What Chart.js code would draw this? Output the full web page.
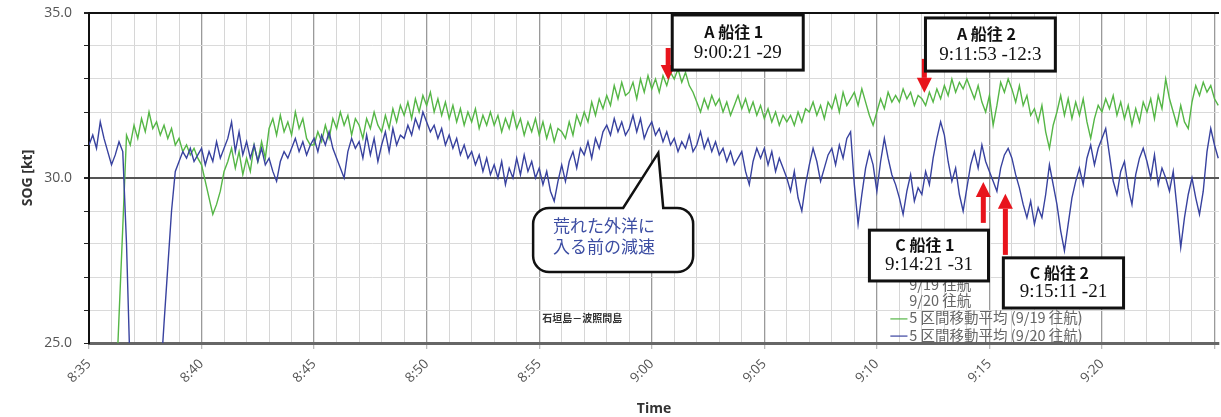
<!DOCTYPE html>
<html><head><meta charset="utf-8">
<script src="https://cdn.jsdelivr.net/npm/chart.js@4.4.1/dist/chart.umd.min.js"></script>
<style>html,body{margin:0;padding:0;background:#fff;}canvas{display:block}</style>
</head><body>
<canvas id="c" width="1221" height="417"></canvas>
<script>
// ---- data ----
const startHour = 8, startMinute = 35;     // first sample 8:35:00
const sampleStepSec = 10;                   // one value every 10 s
const xMaxMinutes = 50.2;                   // axis end (minutes after 8:35)
const xLabelledMax = 45;                    // last labelled tick (9:20)
const yMin = 25, yMax = 35;
const yLabelledTicks = [25, 30, 35];
const legendLabels = ['9/19 往航', '9/20 往航', '5 区間移動平均 (9/19 往航)', '5 区間移動平均 (9/20 往航)'];
const routeLabel = '石垣島－波照間島';
const calloutText = ['荒れた外洋に', '入る前の減速'];

// SOG [kt], 9/19 outbound (green)
const sog0919 = [
 null,null,null,null,null,null,
 null,23.0,25.8,28.5,31.3,31.0,
 31.6,31.2,31.8,31.4,32.0,31.5,
 31.7,31.3,31.6,31.2,31.5,31.0,
 31.2,30.8,31.0,30.7,30.9,30.6,
 30.4,29.9,29.4,28.9,29.2,29.6,
 30.2,30.5,30.9,30.3,30.8,30.1,
 30.6,30.2,31.0,30.5,31.1,30.6,
 31.5,31.8,31.3,31.9,31.4,31.7,
 31.3,32.0,31.5,31.8,31.2,31.0,
 31.0,31.4,31.1,31.6,31.2,31.8,
 31.5,32.0,31.6,31.9,31.3,31.8,
 31.6,31.2,31.8,31.5,32.0,31.6,
 31.4,31.9,31.5,32.1,31.7,32.2,
 31.9,32.3,31.8,32.4,32.0,32.5,
 32.2,32.6,32.0,32.4,31.9,32.3,
 31.8,32.2,31.7,32.1,31.6,32.0,
 31.7,32.1,31.5,31.9,31.6,32.0,
 31.6,31.9,31.4,31.8,31.5,32.0,
 31.5,31.8,31.3,31.7,31.4,31.8,
 31.3,31.7,31.2,31.6,31.1,31.5,
 31.4,31.2,31.7,31.3,31.9,31.6,
 32.0,31.7,32.3,31.9,32.4,32.1,
 32.5,32.2,32.8,32.4,32.9,32.5,
 32.6,32.9,32.4,33.0,32.6,33.1,
 32.7,33.0,32.6,33.1,32.8,33.2,
 33.0,33.3,32.9,33.2,32.8,32.6,
 32.3,32.0,32.4,32.1,32.5,32.2,
 32.4,32.0,32.3,31.9,32.2,32.5,
 32.1,32.4,32.0,32.3,31.9,32.2,
 31.8,32.1,31.7,32.0,31.6,31.9,
 31.7,31.9,31.6,32.0,31.7,32.1,
 32.0,32.3,31.9,32.2,31.8,32.3,
 32.1,32.5,32.0,32.6,32.2,32.4,
 32.6,32.2,32.7,32.3,31.9,31.6,
 32.0,32.4,32.1,32.6,32.3,32.5,
 32.3,32.7,32.4,32.6,32.2,32.5,
 32.4,32.2,32.6,32.3,32.7,32.4,
 32.8,32.5,33.0,32.6,32.9,32.7,
 33.0,32.7,32.4,32.8,32.3,32.0,
 32.5,31.6,32.2,32.9,32.6,33.0,
 32.7,32.3,32.8,32.2,32.5,31.9,
 32.1,31.7,32.2,31.4,30.9,31.6,
 32.0,32.5,31.9,32.4,31.8,32.3,
 31.9,32.4,31.7,31.2,31.8,32.2,
 32.0,32.4,32.1,32.5,31.9,32.3,
 31.8,32.2,31.6,32.1,31.7,32.3,
 32.0,32.4,31.8,32.5,32.1,33.0,
 32.4,32.0,31.6,32.2,31.7,31.5,
 32.3,32.8,32.5,32.9,32.6,32.8,
 32.4,32.2
];

// SOG [kt], 9/20 outbound (blue)
const sog0920 = [
 31.0,31.3,30.9,31.7,31.2,30.8,
 30.4,30.7,31.1,30.8,28.0,24.0,
 null,null,null,null,null,null,
 null,23.8,25.6,27.3,29.0,30.2,
 30.5,30.8,30.6,30.9,30.5,30.7,
 30.9,30.4,30.8,30.5,31.1,30.6,
 30.9,31.2,31.7,30.8,31.4,30.7,
 31.1,30.6,31.0,30.5,30.9,30.4,
 30.6,30.2,29.9,30.5,30.8,30.6,
 30.9,31.2,30.8,31.1,30.7,31.0,
 31.2,30.8,31.3,31.0,31.4,30.9,
 30.6,30.3,30.0,30.8,31.2,30.9,
 31.1,30.6,31.3,30.7,31.2,30.5,
 31.0,31.4,30.8,31.5,31.0,31.3,
 31.2,31.6,31.3,31.8,31.5,32.0,
 31.7,31.4,31.6,31.2,31.5,31.0,
 31.3,30.9,31.2,30.7,31.0,30.6,
 30.8,30.4,30.7,30.2,30.6,30.1,
 30.4,30.0,30.5,29.8,30.3,30.0,
 30.6,30.1,30.7,30.2,30.5,30.0,
 30.3,29.8,30.2,29.6,29.3,29.9,
 30.4,29.9,30.5,30.8,30.3,30.9,
 30.7,31.1,30.6,31.2,30.9,31.4,
 31.6,31.3,31.8,31.4,31.7,31.3,
 31.5,31.9,31.4,31.8,31.2,31.5,
 31.7,31.3,31.5,31.1,31.4,31.0,
 31.2,30.8,31.1,30.9,31.3,30.8,
 31.0,31.4,30.9,31.2,30.8,31.1,
 30.7,30.9,30.5,30.8,30.4,30.6,
 30.8,30.2,29.8,30.5,30.9,30.6,
 30.9,30.4,30.8,30.2,30.6,30.3,
 30.0,29.6,30.2,29.4,29.0,29.8,
 30.4,30.9,30.5,29.9,30.3,30.7,
 30.9,30.4,31.0,30.6,31.2,31.4,
 29.8,28.6,29.5,30.3,30.8,30.4,
 29.6,30.5,31.2,30.6,30.1,29.8,
 29.4,28.9,29.6,30.1,29.3,29.7,
 29.5,30.2,29.8,30.6,31.2,31.7,
 31.3,30.5,29.9,30.3,29.5,29.0,
 29.7,30.4,30.8,30.3,31.0,30.5,
 30.2,29.9,29.6,30.3,30.7,30.9,
 30.6,30.1,29.7,29.2,28.8,29.3,
 28.6,29.1,28.8,29.5,30.4,29.8,
 29.2,28.4,27.8,28.6,29.4,29.9,
 30.3,29.8,30.6,31.0,30.4,30.9,
 31.2,31.5,30.7,29.9,29.5,30.2,
 30.5,29.7,29.2,30.1,30.6,30.9,
 30.5,30.0,30.7,29.8,30.3,30.0,
 29.6,30.2,29.1,27.9,28.8,29.5,
 30.0,29.4,28.9,29.6,30.8,31.5,
 31.0,30.6
];

// ---- annotations (in data units: minutes after 8:35, kt) ----
const boxes = [
  {title: 'A 船往 1', sub: '9:00:21 -29',  x0: 25.91, x1: 31.73, y0: 34.94, y1: 33.27},
  {title: 'A 船往 2', sub: '9:11:53 -12:3', x0: 37.16, x1: 42.93, y0: 34.85, y1: 33.24},
  {title: 'C 船往 1', sub: '9:14:21 -31',  x0: 34.67, x1: 39.96, y0: 28.42, y1: 26.88},
  {title: 'C 船往 2', sub: '9:15:11 -21',  x0: 40.62, x1: 45.96, y0: 27.58, y1: 26.06}
];
const arrows = [
  {x: 25.73, tail: 33.94, tip: 32.97},
  {x: 37.11, tail: 33.61, tip: 32.58},
  {x: 39.73, tail: 28.64, tip: 29.88},
  {x: 40.71, tail: 27.67, tip: 29.52}
];
const callout = {x0: 19.73, x1: 26.84, y0: 29.09, y1: 27.15, tipX: 25.29, tipY: 30.76, baseL: 23.73, baseR: 25.51};
const routePos = {x: 20.13, y: 25.76};
const legendPos = {x: 36.44, lineX0: 35.6, lineX1: 36.36, rows: [26.76, 26.30, 25.76, 25.24]};

// ---- chart ----
const GREEN = '#55b646', BLUE = '#38429f';
const toXY = arr => arr.map((v, i) => ({x: i * sampleStepSec / 60, y: v}));
const isMajor = v => Math.abs(v % 5) < 1e-9;
function clockLabel(m) {
  const t = startHour * 60 + startMinute + m;
  return Math.floor(t / 60) + ':' + String(t % 60).padStart(2, '0');
}

const annotPlugin = {
  id: 'annot',
  afterDatasetsDraw(chart) {
    const {ctx, scales: {x, y}} = chart;
    const X = v => x.getPixelForValue(v), Y = v => y.getPixelForValue(v);
    ctx.save();
    // legend texts
    ctx.font = '14.5px "Noto Sans CJK JP"';
    ctx.fillStyle = '#666';
    ctx.textAlign = 'left'; ctx.textBaseline = 'middle';
    legendLabels.forEach((t, i) => ctx.fillText(t, X(legendPos.x), Y(legendPos.rows[i])));
    [GREEN, BLUE].forEach((c, k) => {
      const yy = Y(legendPos.rows[2 + k]) + 1;
      ctx.strokeStyle = c; ctx.lineWidth = 1.2;
      ctx.beginPath(); ctx.moveTo(X(legendPos.lineX0), yy); ctx.lineTo(X(legendPos.lineX1), yy); ctx.stroke();
    });
    // route label
    ctx.font = 'bold 10px "Noto Sans CJK JP"';
    ctx.fillStyle = '#333';
    ctx.fillText(routeLabel, X(routePos.x), Y(routePos.y));
    // callout bubble
    const cx0 = X(callout.x0), cx1 = X(callout.x1), cy0 = Y(callout.y0), cy1 = Y(callout.y1), r = 16;
    ctx.beginPath();
    ctx.moveTo(cx0 + r, cy0);
    ctx.lineTo(X(callout.baseL), cy0);
    ctx.lineTo(X(callout.tipX), Y(callout.tipY));
    ctx.lineTo(X(callout.baseR), cy0);
    ctx.lineTo(cx1 - r, cy0);
    ctx.arcTo(cx1, cy0, cx1, cy0 + r, r);
    ctx.lineTo(cx1, cy1 - r);
    ctx.arcTo(cx1, cy1, cx1 - r, cy1, r);
    ctx.lineTo(cx0 + r, cy1);
    ctx.arcTo(cx0, cy1, cx0, cy1 - r, r);
    ctx.lineTo(cx0, cy0 + r);
    ctx.arcTo(cx0, cy0, cx0 + r, cy0, r);
    ctx.closePath();
    ctx.fillStyle = '#fff'; ctx.fill();
    ctx.lineWidth = 2.5; ctx.strokeStyle = '#111'; ctx.lineJoin = 'miter'; ctx.stroke();
    ctx.font = '17px "Noto Sans CJK JP"';
    ctx.fillStyle = '#3d4ea3';
    ctx.textAlign = 'left';
    const h = cy1 - cy0;
    ctx.fillText(calloutText[0], cx0 + 20, cy0 + h * 0.28);
    ctx.fillText(calloutText[1], cx0 + 20, cy0 + h * 0.6);
    // arrows
    ctx.fillStyle = '#e8141c';
    arrows.forEach(a => {
      const px = X(a.x), yt = Y(a.tail), yp = Y(a.tip);
      const dir = yp > yt ? 1 : -1, headL = 15, headW = 15, shaft = 5;
      const yb = yp - dir * headL;
      ctx.fillRect(px - shaft / 2, Math.min(yt, yb), shaft, Math.abs(yb - yt));
      ctx.beginPath(); ctx.moveTo(px - headW / 2, yb); ctx.lineTo(px + headW / 2, yb); ctx.lineTo(px, yp); ctx.closePath(); ctx.fill();
    });
    // boxes
    boxes.forEach(b => {
      const bx0 = X(b.x0), bx1 = X(b.x1), by0 = Y(b.y0), by1 = Y(b.y1);
      ctx.fillStyle = '#fff';
      ctx.fillRect(bx0, by0, bx1 - bx0, by1 - by0);
      ctx.lineWidth = 3; ctx.strokeStyle = '#111';
      ctx.strokeRect(bx0, by0, bx1 - bx0, by1 - by0);
      const cx = (bx0 + bx1) / 2, hh = by1 - by0;
      ctx.fillStyle = '#111'; ctx.textAlign = 'center'; ctx.textBaseline = 'middle';
      ctx.font = 'bold 16px "Noto Sans CJK JP"';
      ctx.fillText(b.title, cx - 4, by0 + hh * 0.3);
      ctx.font = '19px "Liberation Serif"';
      ctx.fillText(b.sub, cx, by0 + hh * 0.69);
    });
    ctx.restore();
  }
};

new Chart(document.getElementById('c'), {
  type: 'line',
  data: {
    datasets: [
      {label: '9/20 往航', data: toXY(sog0920), borderColor: BLUE, borderWidth: 1.4},
      {label: '9/19 往航', data: toXY(sog0919), borderColor: GREEN, borderWidth: 1.4}
    ]
  },
  options: {
    responsive: false, animation: false, devicePixelRatio: 1,
    elements: {point: {radius: 0}, line: {tension: 0}},
    spanGaps: false,
    layout: {padding: {top: 13, right: 2, left: 0, bottom: 0}},
    plugins: {legend: {display: false}, tooltip: {enabled: false}},
    scales: {
      x: {
        type: 'linear', min: 0, max: xMaxMinutes,
        afterFit: s => { s.height = 74; s.paddingLeft = 0; s.paddingRight = 0; },
        ticks: {
          stepSize: 1, includeBounds: false, autoSkip: false,
          minRotation: 45, maxRotation: 45, padding: 7,
          color: '#555', font: {family: 'Open Sans', size: 13.5},
          callback: v => (isMajor(v) && v <= xLabelledMax ? clockLabel(v) : '')
        },
        grid: {
          color: c => (c.tick && isMajor(c.tick.value) ? '#9a9a9a' : '#d6d6d6'),
          lineWidth: c => (c.tick && isMajor(c.tick.value) ? 1.3 : 1),
          tickColor: c => (c.tick && isMajor(c.tick.value) ? '#bbb' : 'rgba(0,0,0,0)'),
          tickLength: 6
        },
        border: {display: true, color: '#666', width: 3},
        title: {display: true, text: 'Time', color: '#333', font: {family: 'Open Sans', size: 14, weight: 'bold'}, padding: {top: 0, bottom: 0}}
      },
      y: {
        min: yMin, max: yMax,
        afterFit: s => { s.width = 89; s.paddingTop = 0; s.paddingBottom = 0; },
        ticks: {
          stepSize: 1, color: '#555', padding: 12,
          font: {family: 'Open Sans', size: 14},
          callback: v => (yLabelledTicks.includes(v) ? v.toFixed(1) : '')
        },
        grid: {
          color: c => (c.tick.value === 35 ? '#111' : c.tick.value === 30 ? '#555' : c.tick.value === 25 ? '#666' : '#dadada'),
          lineWidth: c => (c.tick.value === 35 ? 2 : c.tick.value === 30 ? 2 : 1),
          tickColor: '#222', tickLength: 5
        },
        border: {display: true, color: '#111', width: 2},
        title: {display: true, text: 'SOG [kt]', color: '#333', font: {family: 'Open Sans', size: 14, weight: 'bold'}, padding: {top: 20, bottom: 0}}
      }
    }
  },
  plugins: [annotPlugin]
});
</script>
</body></html>
